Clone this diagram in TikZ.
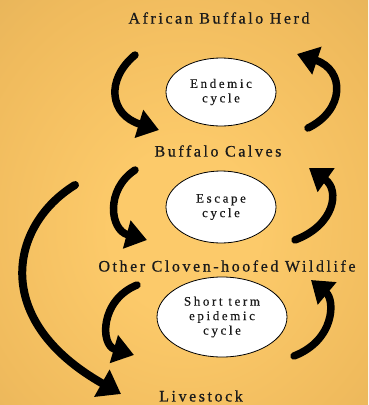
\documentclass[tikz,border=0pt]{standalone}
\usepackage{fontspec}
\setmainfont{Liberation Serif}
\usetikzlibrary{arrows.meta,shapes.geometric}
\definecolor{bgA}{HTML}{FCCA6A}
\definecolor{bgB}{HTML}{F0BB5D}
\definecolor{bgC}{HTML}{DCAC57}
\definecolor{bgD}{HTML}{CFA250}
\definecolor{txt}{HTML}{1A1A1A}
\pgfdeclareradialshading{bgshade}{\pgfpoint{0bp}{-4bp}}{color(0bp)=(bgA); color(10bp)=(bgA); color(30bp)=(bgB); color(50bp)=(bgC); color(71bp)=(bgD)}
\begin{document}
\begin{tikzpicture}[x=1pt,y=-1pt,
  lbl/.style={font=\fontsize{16}{19}\selectfont\addfontfeature{LetterSpace=16,FakeBold=0.7}, text=txt, inner sep=0pt},
  cyc/.style={ellipse, draw=black, line width=0.8pt, fill=white, inner sep=0pt, align=center, text=txt,
    font=\fontsize{13}{14.5}\selectfont\addfontfeature{LetterSpace=20,FakeBold=0.4}},
  arr/.style={line width=7.5pt, line cap=round, -{Triangle[width=28pt,length=21pt]}},
  bigarr/.style={line width=8pt, line cap=round, -{Triangle[width=30pt,length=22pt]}}
]
\shade[shading=bgshade] (0,0) rectangle (368,405);
\useasboundingbox (0,0) rectangle (368,405);

\node[lbl] (herd) at (219,18) {African Buffalo Herd};
\node[lbl] (calves) at (218,151) {Buffalo Calves};
\node[lbl] (wild) at (227,266) {Other Cloven-hoofed Wildlife};
\node[lbl] (live) at (201,396) {Livestock};

\node[cyc, minimum width=110pt, minimum height=68pt] (endemic) at (221,92) {Endemic\\cycle};
\node[cyc, minimum width=110pt, minimum height=72pt] (escape) at (221,207) {Escape\\cycle};
\node[cyc, minimum width=130pt, minimum height=80pt] (short) at (222,317) {Short term\\epidemic\\cycle};

\coordinate (a1s) at (135,55);  \coordinate (a1e) at (159,130);
\coordinate (a2s) at (308,128); \coordinate (a2e) at (297,54);
\coordinate (b1s) at (135,170); \coordinate (b1e) at (147,240);
\coordinate (b2s) at (295,240); \coordinate (b2e) at (309,168);
\coordinate (c1s) at (137,285); \coordinate (c1e) at (134,355);
\coordinate (c2s) at (294,356); \coordinate (c2e) at (311,280);
\coordinate (ds) at (75,185);   \coordinate (de) at (121,394);

\draw[arr] (a1s) .. controls (105,80) and (110,115) .. (a1e);
\draw[arr] (a2s) .. controls (345,110) and (345,70) .. (a2e);
\draw[arr] (b1s) .. controls (105,190) and (110,230) .. (b1e);
\draw[arr] (b2s) .. controls (335,225) and (340,190) .. (b2e);
\draw[arr] (c1s) .. controls (100,300) and (100,345) .. (c1e);
\draw[arr] (c2s) .. controls (335,340) and (335,300) .. (c2e);
\draw[bigarr] (ds) .. controls (10,225) and (-10,320) .. (de);
\end{tikzpicture}
\end{document}
